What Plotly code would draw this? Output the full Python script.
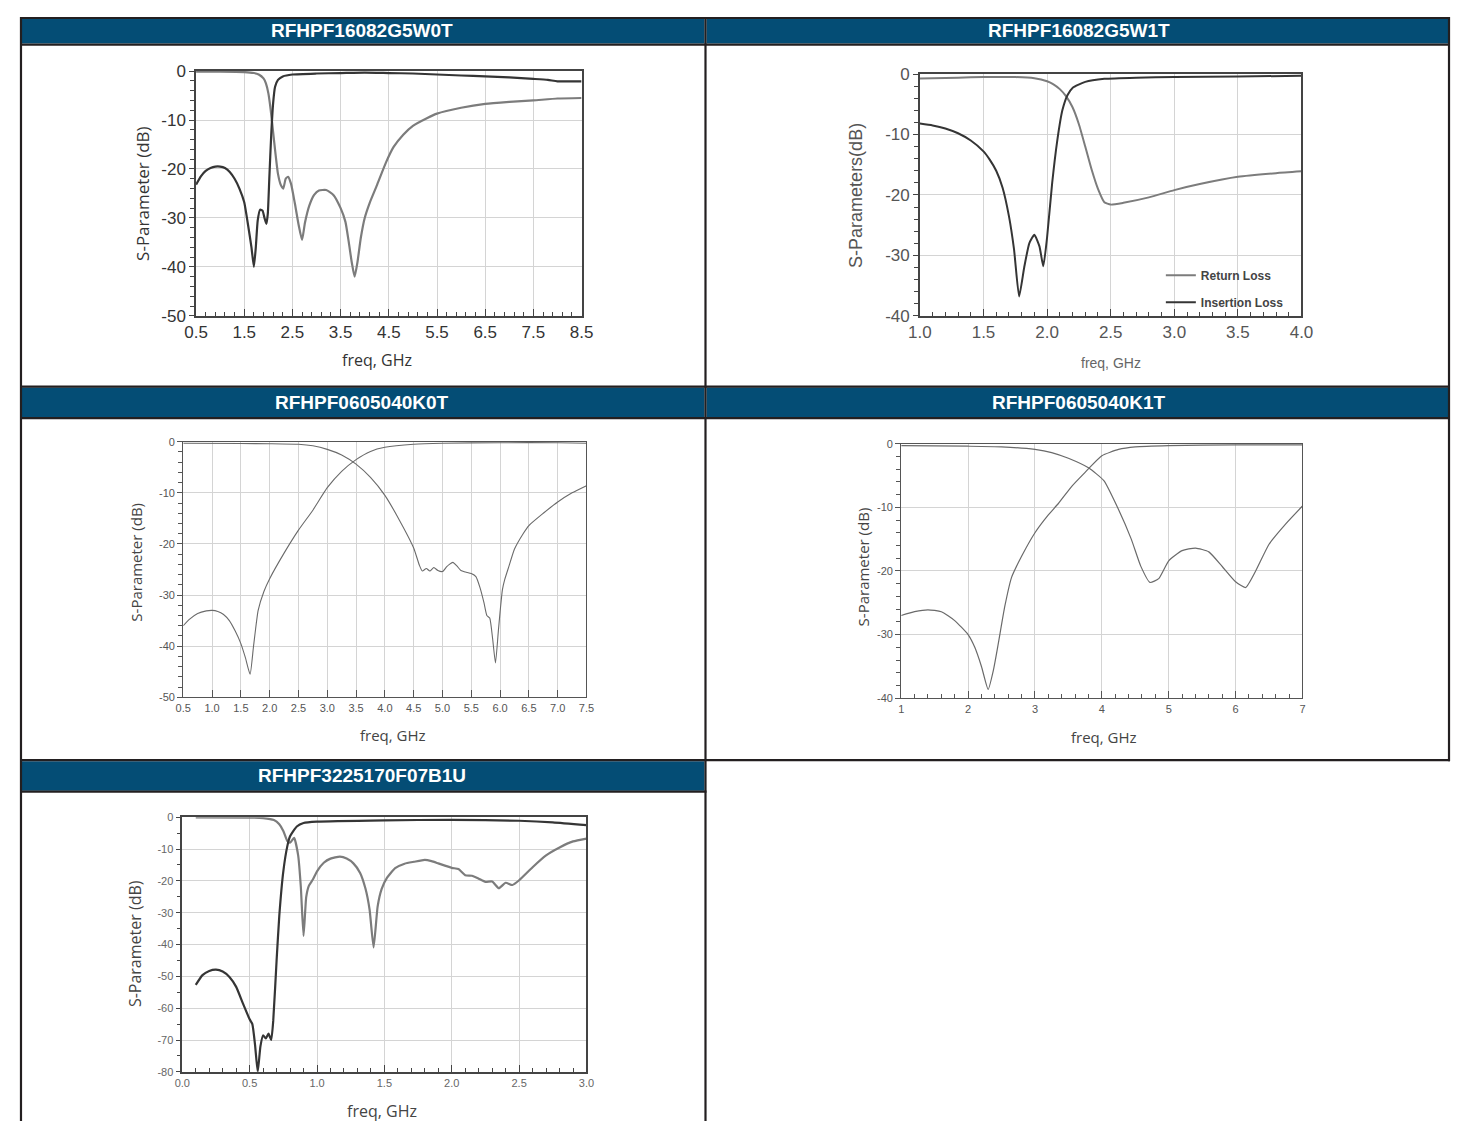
import plotly.graph_objects as go

# Reference canvas and page offset (browser body margin)
W, H = 1470, 1139
OX, OY = 8, 8
FW, FH = W - 2 * OX, H - 2 * OY

# ---------------- DATA ----------------
titles = ["RFHPF16082G5W0T", "RFHPF16082G5W1T", "RFHPF0605040K0T",
          "RFHPF0605040K1T", "RFHPF3225170F07B1U"]

# Chart 1: RFHPF16082G5W0T
c1_f_dark = [0.5, 0.6, 0.7, 0.8, 0.9, 1.0, 1.1, 1.2, 1.3, 1.4, 1.5, 1.58, 1.65, 1.7, 1.74, 1.78,
             1.83, 1.88, 1.92, 1.96, 1.99, 2.02, 2.06, 2.1, 2.14, 2.2, 2.3, 2.5, 3.0, 3.5, 4.0,
             4.5, 5.0, 5.5, 6.0, 6.5, 7.0, 7.5, 7.8, 8.0, 8.5]
c1_dark = [-23.2, -21.5, -20.4, -19.8, -19.5, -19.5, -19.8, -20.6, -22.0, -24.0, -26.8, -31.5, -36.0, -40.0,
           -36.0, -30.5, -28.3, -28.5, -30.0, -31.2, -29.0, -22.0, -13.0, -6.5, -3.2, -1.8, -1.1, -0.7, -0.5,
           -0.4, -0.3, -0.4, -0.5, -0.7, -0.9, -1.1, -1.3, -1.6, -1.8, -2.1, -2.1]
c1_f_gray = [0.5, 1.0, 1.5, 1.7, 1.8, 1.9, 1.95, 2.0, 2.05, 2.1, 2.15, 2.2, 2.26, 2.31, 2.36, 2.41,
             2.47, 2.55, 2.63, 2.7, 2.76, 2.85, 2.95, 3.05, 3.2, 3.35, 3.5, 3.6, 3.67, 3.73, 3.79,
             3.85, 3.92, 4.0, 4.1, 4.25, 4.44, 4.6, 4.8, 5.0, 5.3, 5.5, 6.0, 6.5, 7.0, 7.5, 8.0, 8.5]
c1_gray = [-0.1, -0.1, -0.2, -0.4, -0.7, -1.5, -2.5, -4.5, -8.0, -12.5, -17.0, -21.0, -23.3, -24.0,
           -22.0, -21.6, -23.0, -27.0, -31.5, -34.5, -31.0, -27.5, -25.3, -24.4, -24.3, -25.3, -28.0,
           -30.8, -35.0, -39.0, -42.0, -39.0, -34.0, -30.0, -27.0, -23.4, -18.7, -15.5, -13.0, -11.2,
           -9.6, -8.7, -7.5, -6.7, -6.3, -6.0, -5.6, -5.5]
c1_xticks = [0.5, 1.5, 2.5, 3.5, 4.5, 5.5, 6.5, 7.5, 8.5]
c1_xtext = ["0.5", "1.5", "2.5", "3.5", "4.5", "5.5", "6.5", "7.5", "8.5"]
c1_yticks = [0, -10, -20, -30, -40, -50]
c1_ytext = ["0", "-10", "-20", "-30", "-40", "-50"]

# Chart 2: RFHPF16082G5W1T
c2_f_il = [1.0, 1.1, 1.2, 1.3, 1.4, 1.5, 1.55, 1.6, 1.65, 1.7, 1.74, 1.78, 1.82, 1.86, 1.9, 1.94,
           1.97, 2.0, 2.04, 2.08, 2.12, 2.16, 2.2, 2.3, 2.45, 2.7, 3.0, 3.5, 4.0]
c2_il = [-8.2, -8.5, -9.0, -9.8, -11.0, -12.8, -14.2, -16.0, -18.8, -23.5, -29.0, -36.8, -32.0, -28.0,
         -26.6, -28.5, -31.8, -27.0, -18.0, -11.0, -6.0, -3.5, -2.3, -1.3, -0.8, -0.6, -0.5, -0.4, -0.3]
c2_f_rl = [1.0, 1.3, 1.5, 1.75, 1.9, 2.0, 2.05, 2.1, 2.15, 2.2, 2.25, 2.3, 2.35, 2.4, 2.45, 2.5,
           2.6, 2.8, 3.0, 3.2, 3.5, 3.8, 4.0]
c2_rl = [-0.75, -0.6, -0.5, -0.5, -0.7, -1.2, -1.7, -2.5, -3.7, -5.5, -8.3, -12.0, -15.8, -19.0,
         -21.2, -21.6, -21.3, -20.4, -19.2, -18.2, -17.0, -16.4, -16.1]
c2_xticks = [1.0, 1.5, 2.0, 2.5, 3.0, 3.5, 4.0]
c2_xtext = ["1.0", "1.5", "2.0", "2.5", "3.0", "3.5", "4.0"]
c2_yticks = [0, -10, -20, -30, -40]
c2_ytext = ["0", "-10", "-20", "-30", "-40"]
c2_names = ["Return Loss", "Insertion Loss"]

# Chart 3: RFHPF0605040K0T
c3_f_a = [0.5, 0.6, 0.75, 0.9, 1.0, 1.1, 1.2, 1.3, 1.4, 1.5, 1.58, 1.66, 1.72, 1.8, 1.9, 2.0, 2.25,
          2.5, 2.75, 3.0, 3.25, 3.5, 3.75, 4.0, 4.5, 5.0, 6.0, 7.0, 7.5]
c3_a = [-36.0, -34.8, -33.6, -33.1, -33.0, -33.2, -33.8, -35.0, -37.0, -39.5, -42.3, -45.5, -40.0,
        -33.0, -29.3, -26.8, -21.8, -17.3, -13.4, -9.0, -5.8, -3.5, -1.9, -1.1, -0.5, -0.3, -0.2,
        -0.2, -0.3]
c3_f_b = [0.5, 1.5, 2.0, 2.5, 2.75, 3.0, 3.25, 3.5, 3.75, 4.0, 4.25, 4.5, 4.6, 4.65, 4.72, 4.78,
          4.85, 4.92, 5.0, 5.07, 5.12, 5.18, 5.25, 5.32, 5.4, 5.5, 5.58, 5.65, 5.72, 5.77, 5.82,
          5.87, 5.92, 5.97, 6.0, 6.04, 6.08, 6.15, 6.25, 6.4, 6.5, 6.75, 7.0, 7.25, 7.5]
c3_b = [-0.3, -0.35, -0.4, -0.5, -0.8, -1.5, -2.6, -4.4, -7.0, -10.5, -15.3, -20.8, -24.2, -25.3,
        -24.8, -25.3, -24.6, -25.2, -25.4, -24.5, -24.0, -23.6, -24.3, -25.2, -25.5, -25.8, -26.4,
        -28.5, -31.5, -34.0, -34.5, -38.5, -43.3, -37.0, -33.3, -29.0, -27.0, -24.5, -21.0, -18.0,
        -16.4, -14.0, -11.8, -10.0, -8.6]
c3_xticks = [0.5, 1.0, 1.5, 2.0, 2.5, 3.0, 3.5, 4.0, 4.5, 5.0, 5.5, 6.0, 6.5, 7.0, 7.5]
c3_xtext = ["0.5", "1.0", "1.5", "2.0", "2.5", "3.0", "3.5", "4.0", "4.5", "5.0", "5.5", "6.0",
            "6.5", "7.0", "7.5"]
c3_yticks = [0, -10, -20, -30, -40, -50]
c3_ytext = ["0", "-10", "-20", "-30", "-40", "-50"]

# Chart 4: RFHPF0605040K1T
c4_f_a = [1.0, 1.2, 1.4, 1.6, 1.8, 2.0, 2.1, 2.2, 2.3, 2.38, 2.45, 2.55, 2.65, 2.8, 3.0, 3.2, 3.35,
          3.55, 3.75, 4.0, 4.25, 4.5, 5.0, 6.0, 7.0]
c4_a = [-27.0, -26.4, -26.1, -26.4, -27.8, -30.0, -32.0, -35.0, -38.6, -35.5, -31.5, -25.5, -21.0,
        -17.7, -14.0, -11.2, -9.4, -6.7, -4.5, -1.9, -0.9, -0.5, -0.3, -0.2, -0.2]
c4_f_b = [1.0, 2.0, 2.5, 3.0, 3.25, 3.5, 3.8, 4.03, 4.23, 4.44, 4.58, 4.72, 4.85, 5.0, 5.2, 5.4,
          5.6, 5.8, 6.0, 6.15, 6.3, 6.5, 6.75, 7.0]
c4_b = [-0.3, -0.4, -0.5, -0.9, -1.4, -2.3, -3.8, -5.8, -9.9, -15.0, -19.2, -21.8, -21.2, -18.4,
        -16.8, -16.4, -17.0, -19.3, -21.7, -22.6, -20.0, -15.8, -12.6, -9.8]
c4_xticks = [1, 2, 3, 4, 5, 6, 7]
c4_xtext = ["1", "2", "3", "4", "5", "6", "7"]
c4_yticks = [0, -10, -20, -30, -40]
c4_ytext = ["0", "-10", "-20", "-30", "-40"]

# Chart 5: RFHPF3225170F07B1U
c5_f_dark = [0.1, 0.15, 0.2, 0.25, 0.3, 0.35, 0.4, 0.45, 0.5, 0.52, 0.54, 0.56, 0.58, 0.6, 0.62,
             0.64, 0.66, 0.675, 0.7, 0.72, 0.75, 0.78, 0.8, 0.85, 0.9, 1.0, 1.5, 2.0, 2.5, 2.75, 3.0]
c5_dark = [-52.7, -49.6, -48.3, -47.9, -48.5, -50.2, -53.3, -58.5, -63.5, -65.0, -71.5, -80.0, -72.0,
           -68.5, -69.5, -68.0, -70.0, -64.0, -45.0, -31.0, -17.0, -9.0, -6.0, -2.9, -1.8, -1.4,
           -1.0, -0.8, -1.1, -1.6, -2.5]
c5_f_gray = [0.1, 0.5, 0.6, 0.68, 0.72, 0.75, 0.78, 0.8, 0.83, 0.86, 0.88, 0.9, 0.92, 0.94, 0.97,
             1.0, 1.05, 1.1, 1.17, 1.22, 1.27, 1.32, 1.36, 1.39, 1.42, 1.45, 1.48, 1.52, 1.58, 1.65,
             1.72, 1.8, 1.85, 1.9, 2.0, 2.05, 2.1, 2.15, 2.2, 2.25, 2.3, 2.35, 2.4, 2.45, 2.5, 2.6,
             2.7, 2.8, 2.9, 3.0]
c5_gray = [-0.05, -0.1, -0.3, -0.9, -2.2, -4.3, -7.5, -8.0, -6.5, -12.0, -22.0, -37.3, -25.0, -21.5,
           -19.5, -17.0, -14.3, -13.0, -12.4, -13.0, -14.5, -17.5, -22.5, -29.0, -40.9, -28.0, -22.5,
           -19.0, -16.0, -14.6, -14.0, -13.4, -13.8, -14.5, -15.9, -16.3, -18.2, -18.4, -19.3, -20.3,
           -20.2, -22.3, -20.6, -21.3, -19.8, -15.7, -12.0, -9.5, -7.6, -6.7]
c5_xticks = [0.0, 0.5, 1.0, 1.5, 2.0, 2.5, 3.0]
c5_xtext = ["0.0", "0.5", "1.0", "1.5", "2.0", "2.5", "3.0"]
c5_yticks = [0, -10, -20, -30, -40, -50, -60, -70, -80]
c5_ytext = ["0", "-10", "-20", "-30", "-40", "-50", "-60", "-70", "-80"]

# ---------------- HELPERS ----------------
def px(x):
    return (x - OX) / FW

def py(y):
    return 1 - (y - OY) / FH

HEADER_BLUE = "#044D75"
BORDER = "#231F20"
NARROW = "Liberation Sans Narrow, Arial Narrow, Liberation Sans, Arial, sans-serif"
SANS = "Liberation Sans, Arial, sans-serif"
TITLEF = "Open Sans, Liberation Sans, Arial, sans-serif"

fig = go.Figure()

boxes = {
    1: (187, 579, 63, 312),
    2: (923, 1311, 66, 312),
    3: (174, 584, 440, 700),
    4: (904, 1312, 442, 701),
    5: (173, 584, 822, 1081),
}

def axis_pair(n, xr, yr, xticks, xtext, yticks, ytext, xminor, xminor0, yminor, font,
              linecolor="#444", linewidth=1.5, gridcolor="#D4D4D4", xticklen=7, yticklen=5):
    x0, x1, y0, y1 = boxes[n]
    xa = dict(domain=[px(x0), px(x1)], range=xr, anchor=f"y{n}" if n > 1 else "y",
              tickmode="array", tickvals=xticks, ticktext=xtext, showgrid=True,
              gridcolor=gridcolor, gridwidth=1, showline=True, linecolor=linecolor,
              linewidth=linewidth, mirror=True, ticks="inside", ticklen=xticklen,
              tickcolor=linecolor, tickwidth=1, tickfont=font, zeroline=False, fixedrange=True)
    if xminor:
        xa["minor"] = dict(dtick=xminor, tick0=xminor0, ticks="inside", ticklen=4,
                           tickcolor=linecolor, tickwidth=1, showgrid=False)
    ya = dict(domain=[py(y1), py(y0)], range=yr, anchor=f"x{n}" if n > 1 else "x",
              tickmode="array", tickvals=yticks, ticktext=ytext, showgrid=True,
              gridcolor=gridcolor, gridwidth=1, showline=True, linecolor=linecolor,
              linewidth=linewidth, mirror=True, ticks="outside", ticklen=yticklen,
              tickcolor=linecolor, tickwidth=1, tickfont=font, zeroline=False, fixedrange=True)
    if yminor:
        ya["minor"] = dict(dtick=yminor, tick0=0, ticks="outside", ticklen=4,
                           tickcolor=linecolor, tickwidth=1, showgrid=False)
    return xa, ya

layout_axes = {}
cfg = [
    (1, [0.5, 8.5], [-50, 0], c1_xticks, c1_xtext, c1_yticks, c1_ytext, 0.2, 0.5, 2,
     dict(family=NARROW, size=17, color="#333")),
    (2, [1.0, 4.0], [-40, 0], c2_xticks, c2_xtext, c2_yticks, c2_ytext, 0.1, 1.0, 2,
     dict(family=NARROW, size=17, color="#555")),
    (3, [0.5, 7.5], [-50, 0], c3_xticks, c3_xtext, c3_yticks, c3_ytext, None, 0, 2,
     dict(family=SANS, size=11, color="#555")),
    (4, [1, 7], [-40, 0], c4_xticks, c4_xtext, c4_yticks, c4_ytext, 0.2, 1, 2,
     dict(family=SANS, size=11, color="#555")),
    (5, [0, 3.0], [-80, 0], c5_xticks, c5_xtext, c5_yticks, c5_ytext, 0.1, 0, 5,
     dict(family=SANS, size=11, color="#666")),
]
for n, xr, yr, xt, xtx, yt, ytx, xm, xm0, ym, font in cfg:
    lc = "#444" if n in (1, 2, 5) else "#555"
    lw = 1.5 if n in (1, 2, 5) else 1.2
    xa, ya = axis_pair(n, xr, yr, xt, xtx, yt, ytx, xm, xm0, ym, font, linecolor=lc, linewidth=lw)
    layout_axes["xaxis" if n == 1 else f"xaxis{n}"] = xa
    layout_axes["yaxis" if n == 1 else f"yaxis{n}"] = ya

def add(n, x, y, color, width, name=None, show=False, group=None):
    fig.add_trace(go.Scatter(
        x=x, y=y, mode="lines", name=name, showlegend=show, legendgroup=group,
        line=dict(color=color, width=width, shape="spline", smoothing=0.5),
        xaxis="x" if n == 1 else f"x{n}", yaxis="y" if n == 1 else f"y{n}",
        hoverinfo="skip"))

DARK = "#353535"
GRAY = "#7C7C7C"
add(1, c1_f_gray, c1_gray, GRAY, 2.2)
add(1, c1_f_dark, c1_dark, DARK, 2.2)
add(2, c2_f_rl, c2_rl, GRAY, 2, name=c2_names[0], show=True, group="rl")
add(2, c2_f_il, c2_il, DARK, 2, name=c2_names[1], show=True, group="il")
add(3, c3_f_a, c3_a, "#6A6A6A", 1.1)
add(3, c3_f_b, c3_b, "#6A6A6A", 1.1)
add(4, c4_f_a, c4_a, "#6A6A6A", 1.2)
add(4, c4_f_b, c4_b, "#6A6A6A", 1.2)
add(5, c5_f_gray, c5_gray, GRAY, 2.2)
add(5, c5_f_dark, c5_dark, DARK, 2.2)

# ---------------- TABLE FRAME ----------------
# (outer edges pulled just inside the visible page area)
shapes = []
headers = [(9, 704, 9, 35), (706, 1461, 9, 35), (9, 704, 385, 415), (706, 1461, 385, 415),
           (9, 704, 765, 795)]
for x0, x1, y0, y1 in headers:
    shapes.append(dict(type="rect", xref="paper", yref="paper", x0=px(x0), x1=px(x1),
                       y0=py(y1), y1=py(y0), fillcolor=HEADER_BLUE, line=dict(width=0),
                       layer="below"))
hlines = [(8, 1462, 9), (8, 1462, 36), (8, 1462, 384), (8, 1462, 416), (8, 1462, 764),
          (8, 706, 796)]
for x0, x1, y in hlines:
    shapes.append(dict(type="line", xref="paper", yref="paper", x0=px(x0), x1=px(x1),
                       y0=py(y), y1=py(y), line=dict(color=BORDER, width=2.2)))
vlines = [(9, 8, 1131), (705, 8, 1131), (1461, 8, 765)]
for x, y0, y1 in vlines:
    shapes.append(dict(type="line", xref="paper", yref="paper", x0=px(x), x1=px(x),
                       y0=py(y0), y1=py(y1), line=dict(color=BORDER, width=2.2)))

annotations = []
head_pos = [(356, 21.5), (1085, 21.5), (356, 400), (1085, 400), (356, 780)]
for t, (x, y) in zip(titles, head_pos):
    annotations.append(dict(text=f"<b>{t}</b>", x=px(x), y=py(y), xref="paper", yref="paper",
                            showarrow=False, xanchor="center", yanchor="middle",
                            font=dict(family=SANS, size=19, color="white")))

axis_titles = [
    ("S-Parameter (dB)", 133, 187, -90, TITLEF, 17, "#333"),
    ("freq, GHz", 371, 357, 0, TITLEF, 16, "#333"),
    ("S-Parameters(dB)", 858, 189, -90, SANS, 18, "#555"),
    ("freq, GHz", 1117, 360, 0, NARROW, 14, "#666"),
    ("S-Parameter (dB)", 126, 563, -90, TITLEF, 15, "#444"),
    ("freq, GHz", 387, 738, 0, TITLEF, 15, "#444"),
    ("S-Parameter (dB)", 865, 567, -90, TITLEF, 15, "#444"),
    ("freq, GHz", 1110, 740, 0, TITLEF, 15, "#444"),
    ("S-Parameter (dB)", 125, 951, -90, TITLEF, 16, "#444"),
    ("freq, GHz", 376, 1121, 0, TITLEF, 16, "#444"),
]
for t, x, y, ang, fam, sz, col in axis_titles:
    annotations.append(dict(text=t, x=px(x), y=py(y), xref="paper", yref="paper",
                            showarrow=False, xanchor="center", yanchor="middle", textangle=ang,
                            font=dict(family=fam, size=sz, color=col)))

fig.update_layout(
    width=FW, height=FH, autosize=False,
    margin=dict(l=0, r=0, t=0, b=0, pad=0),
    paper_bgcolor="white", plot_bgcolor="white",
    shapes=shapes, annotations=annotations,
    showlegend=True,
    legend=dict(x=px(1168), y=py(256), xanchor="left", yanchor="top",
                bgcolor="rgba(0,0,0,0)", tracegroupgap=8,
                font=dict(family=SANS, size=12, color="#444", weight="bold"), itemwidth=30),
    **layout_axes,
)

fig.write_html("out.html", config={"displayModeBar": False})
